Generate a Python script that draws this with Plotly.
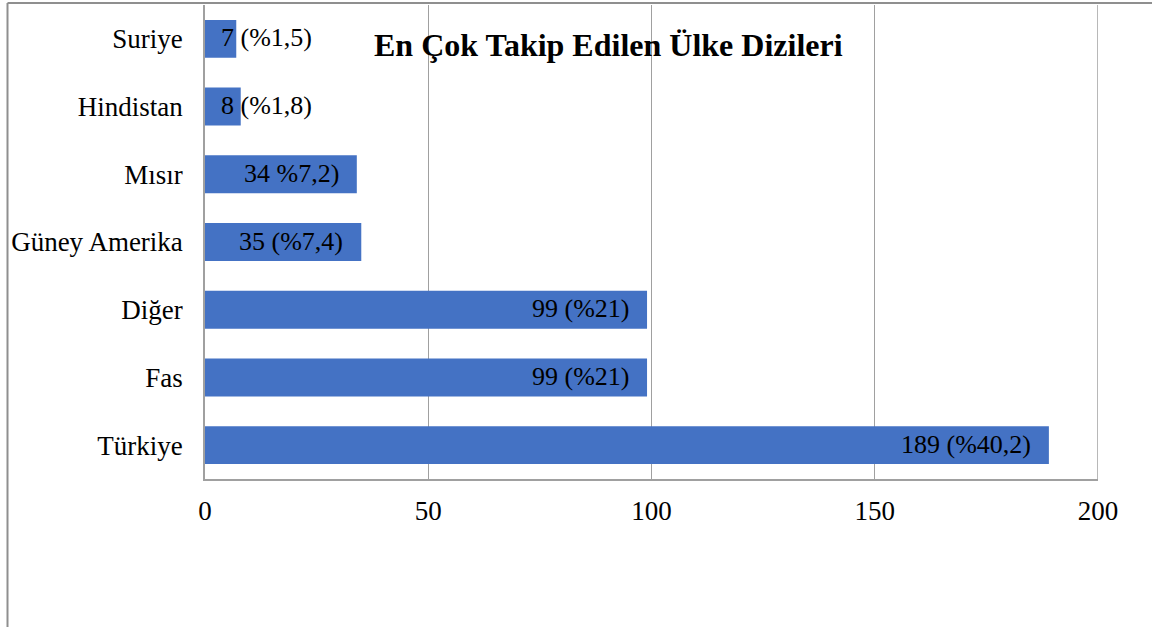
import plotly.graph_objects as go

categories = ["Türkiye", "Fas", "Diğer", "Güney Amerika", "Mısır", "Hindistan", "Suriye"]
values = [189, 99, 99, 35, 34, 8, 7]
labels = ["189 (%40,2)", "99 (%21)", "99 (%21)", "35 (%7,4)", "34 %7,2)", "8 (%1,8)", "7 (%1,5)"]
x_ticks = [0, 50, 100, 150, 200]
title = "En Çok Takip Edilen Ülke Dizileri"

FONT = "Liberation Serif"
GRID = "#a0a0a0"

fig = go.Figure(go.Bar(
    x=values, y=categories, orientation="h",
    marker=dict(color="#4472C4", line=dict(width=0)),
    hoverinfo="skip",
))

annotations = []
for v, c, t in zip(values, categories, labels):
    if v < 20:
        annotations.append(dict(x=0, y=c, xref="x", yref="y", text=t, showarrow=False,
                                xanchor="left", xshift=14, yshift=1,
                                font=dict(family=FONT, size=26, color="black")))
    else:
        annotations.append(dict(x=v, y=c, xref="x", yref="y", text=t, showarrow=False,
                                xanchor="right", xshift=-16, yshift=1,
                                font=dict(family=FONT, size=26, color="black")))

annotations.append(dict(x=(608 - 205) / 893, y=(479 - 45) / 474, xref="paper", yref="paper",
                        text="<b>" + title + "</b>", showarrow=False,
                        xanchor="center", yanchor="middle",
                        font=dict(family=FONT, size=32, color="black")))

frame_x = (7.5 - 205) / 893
frame_y = 1 + 2 / 474
fig.update_layout(
    width=1152, height=627,
    margin=dict(l=205, r=54, t=5, b=148),
    paper_bgcolor="white", plot_bgcolor="white",
    bargap=0.44,
    showlegend=False,
    annotations=annotations,
    font=dict(family=FONT, size=27, color="black"),
    shapes=[
        dict(type="line", xref="paper", yref="paper", x0=frame_x, x1=1.1, y0=frame_y, y1=frame_y,
             line=dict(color="#8f8f8f", width=2), layer="above"),
        dict(type="line", xref="paper", yref="paper", x0=frame_x, x1=frame_x, y0=-0.5, y1=frame_y,
             line=dict(color="#8f8f8f", width=2), layer="above"),
        dict(type="line", xref="x", yref="paper", x0=x_ticks[-1], x1=x_ticks[-1], y0=0, y1=1,
             line=dict(color=GRID, width=1.5), layer="above"),
    ],
)
fig.update_xaxes(
    range=[0, 200], tickvals=x_ticks, showgrid=True, gridcolor=GRID, gridwidth=1,
    showline=True, linecolor=GRID, linewidth=1.5, zeroline=False,
    ticks="", ticklabelstandoff=7,
    tickfont=dict(family=FONT, size=27, color="black"),
)
fig.update_yaxes(
    categoryorder="array", categoryarray=categories,
    showgrid=False, showline=True, linecolor=GRID, linewidth=1.5,
    ticks="", ticklabelstandoff=15,
    tickfont=dict(family=FONT, size=27, color="black"),
)

fig.write_html("out.html", config={"displayModeBar": False},
               post_script="document.body.style.margin='0';document.body.style.overflow='hidden';")
